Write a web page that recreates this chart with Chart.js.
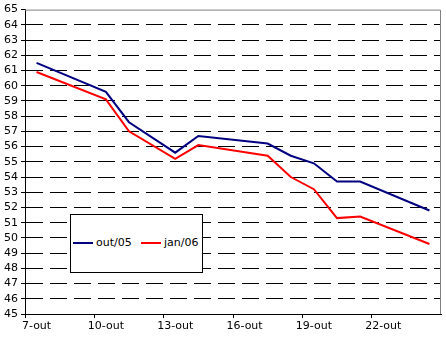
<!DOCTYPE html>
<html>
<head>
<meta charset="utf-8">
<script src="https://cdn.jsdelivr.net/npm/chart.js@4/dist/chart.umd.min.js"></script>
<style>
    body { margin: 0; background: #fff; }
    #wrap { position: relative; width: 446px; height: 338px; }
    #legend {
        position: absolute; left: 70px; top: 214px; width: 131px; height: 57px;
        border: 1px solid #000; background: #fff;
        font: 11px "DejaVu Sans", sans-serif; color: #000;
    }
    #legend .item { position: absolute; top: 21px; height: 14px; line-height: 14px; white-space: nowrap; }
    #legend .swatch { display: inline-block; width: 20px; height: 2px; vertical-align: middle; margin-right: 3px; }
</style>
</head>
<body>
<div id="wrap">
    <canvas id="chart" width="446" height="338"></canvas>
    <div id="legend"></div>
</div>
<script>
    // Trading days of October; nulls are days without quotes
    const days = ['7-out', '8-out', '9-out', '10-out', '11-out', '12-out', '13-out', '14-out', '15-out',
                  '16-out', '17-out', '18-out', '19-out', '20-out', '21-out', '22-out', '23-out', '24-out'];
    const out05 = [61.5, null, null, 59.6, 57.6, null, 55.6, 56.7, null, null, 56.2, 55.4, 54.9, 53.7, 53.7, null, null, 51.8];
    const jan06 = [60.9, null, null, 59.1, 57.0, null, 55.2, 56.1, null, null, 55.4, 54.0, 53.2, 51.3, 51.4, null, null, 49.6];
    const yMin = 45;
    const yMax = 65;

    Chart.defaults.font.family = '"DejaVu Sans", sans-serif';
    Chart.defaults.font.size = 11;
    Chart.defaults.color = '#000';

    // Gray plot-area frame (top and right; axes cover the rest)
    const plotFrame = {
        id: 'plotFrame',
        beforeDatasetsDraw(chart) {
            const {ctx, chartArea: a} = chart;
            ctx.save();
            ctx.strokeStyle = '#808080';
            ctx.lineWidth = 1;
            ctx.beginPath();
            ctx.moveTo(a.left, a.top + 0.5);
            ctx.lineTo(a.right - 0.5, a.top + 0.5);
            ctx.lineTo(a.right - 0.5, a.bottom);
            ctx.stroke();
            ctx.restore();
        }
    };

    const chart = new Chart(document.getElementById('chart'), {
        type: 'line',
        data: {
            labels: days,
            datasets: [
                { label: 'out/05', data: out05, borderColor: '#000080', backgroundColor: '#000080' },
                { label: 'jan/06', data: jan06, borderColor: '#ff0000', backgroundColor: '#ff0000' }
            ]
        },
        options: {
            responsive: false,
            animation: false,
            spanGaps: true,
            elements: {
                line: { borderWidth: 2, tension: 0 },
                point: { radius: 0, hoverRadius: 0 }
            },
            layout: { padding: { top: 7, right: 5, left: 0, bottom: 0 } },
            plugins: {
                legend: { display: false },
                tooltip: { enabled: false }
            },
            scales: {
                x: {
                    offset: true,
                    grid: {
                        offset: true,
                        drawOnChartArea: false,
                        tickLength: 4,
                        color: (ctx) => ctx.index % 3 === 0 ? '#000' : 'rgba(0,0,0,0)'
                    },
                    border: { color: '#000', width: 1 },
                    ticks: {
                        autoSkip: false,
                        maxRotation: 0,
                        padding: 2,
                        callback: function(value, index) {
                            return index % 3 === 0 ? this.getLabelForValue(value) : '';
                        }
                    },
                    afterFit: (scale) => { scale.height = 24; }
                },
                y: {
                    min: yMin,
                    max: yMax,
                    grid: {
                        tickLength: 4,
                        tickColor: '#000',
                        tickBorderDash: [],
                        color: (ctx) => (ctx.tick && (ctx.tick.value === yMin || ctx.tick.value === yMax)) ? 'rgba(0,0,0,0)' : '#000'
                    },
                    border: { color: '#000', width: 1, dash: [17, 7] },
                    ticks: { stepSize: 1, autoSkip: false, padding: 3 },
                    afterFit: (scale) => { scale.width = 25; }
                }
            }
        },
        plugins: [plotFrame]
    });

    // Legend box laid over the plot area
    const legend = document.getElementById('legend');
    const itemLeft = [2, 70];
    chart.data.datasets.forEach((ds, i) => {
        const item = document.createElement('div');
        item.className = 'item';
        item.style.left = itemLeft[i] + 'px';
        item.innerHTML = '<span class="swatch" style="background:' + ds.borderColor + '"></span>' + ds.label;
        legend.appendChild(item);
    });
</script>
</body>
</html>
